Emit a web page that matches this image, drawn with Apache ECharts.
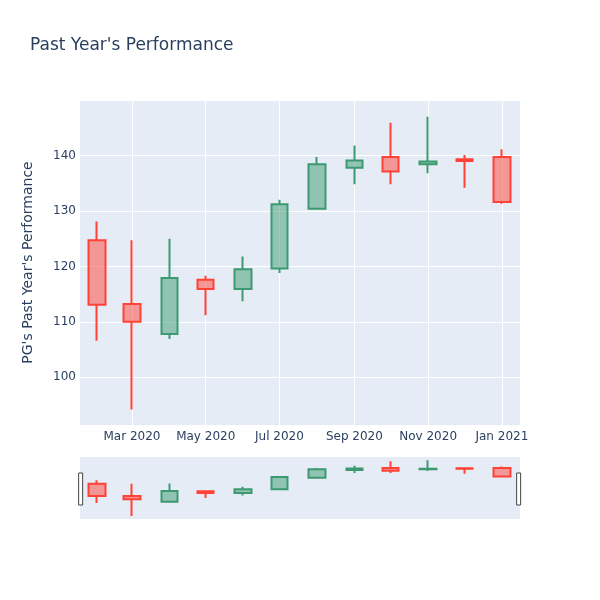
<!DOCTYPE html>
<html>
<head>
<meta charset="utf-8">
<script src="https://cdn.jsdelivr.net/npm/echarts@6/dist/echarts.min.js"></script>
<style>
  html, body { margin: 0; padding: 0; background: #fff; }
  #main { width: 600px; height: 600px; }
</style>
</head>
<body>
<div id="main"></div>
<script>
// monthly candles, PG
var months = ['2020-02-01', '2020-03-01', '2020-04-01', '2020-05-01', '2020-06-01', '2020-07-01',
              '2020-08-01', '2020-09-01', '2020-10-01', '2020-11-01', '2020-12-01', '2021-01-01'];
var opens  = [124.7, 113.2, 107.8, 117.6, 115.9, 119.6, 130.4, 137.8, 139.7, 138.4, 139.3, 139.7];
var closes = [113.1, 110.0, 117.9, 115.9, 119.5, 131.2, 138.4, 139.1, 137.1, 138.9, 139.0, 131.6];
var lows   = [106.6,  94.2, 106.9, 111.2, 113.7, 118.8, 130.2, 134.8, 134.8, 136.8, 134.2, 131.3];
var highs  = [128.1, 124.7, 125.0, 118.3, 121.8, 132.0, 139.7, 141.8, 145.9, 147.0, 140.1, 141.1];
var labelDates = ['2020-03-01', '2020-05-01', '2020-07-01', '2020-09-01', '2020-11-01', '2021-01-01'];

var monthNames = ['Jan', 'Feb', 'Mar', 'Apr', 'May', 'Jun', 'Jul', 'Aug', 'Sep', 'Oct', 'Nov', 'Dec'];
function ts(s) { return new Date(s + 'T00:00:00Z').getTime(); }
var xMin = ts('2020-01-18'), xMax = ts('2021-01-16');
var yMin = 91.4, yMax = 150;
var labelTs = labelDates.map(ts);

var candles = months.map(function (m, i) {
    return [ts(m), opens[i], closes[i], lows[i], highs[i]];
});

var upLine = '#3D9970', downLine = '#FF4136';
var candleStyle = {
    color: 'rgba(61,153,112,0.5)',
    color0: 'rgba(255,65,54,0.5)',
    borderColor: upLine,
    borderColor0: downLine,
    borderWidth: 2
};

var myChart = echarts.init(document.getElementById('main'));
var txt = '#2a3f5f';
var font = 'DejaVu Sans';
var option = {
    animation: false,
    backgroundColor: '#fff',
    textStyle: { fontFamily: font },
    title: {
        text: "Past Year's Performance",
        left: 25,
        top: 32,
        textStyle: { color: txt, fontSize: 17, fontWeight: 'normal', fontFamily: font }
    },
    grid: [
        { left: 80, right: 80, top: 100, height: 325, show: true, backgroundColor: '#E5ECF6', borderWidth: 0 },
        { left: 80, right: 80, top: 457, height: 62, show: true, backgroundColor: '#E5ECF6', borderWidth: 0 }
    ],
    xAxis: [
        {
            type: 'value',
            gridIndex: 0,
            min: xMin,
            max: xMax,
            axisLine: { show: false },
            axisTick: { show: false, customValues: labelTs },
            splitLine: { show: true, lineStyle: { color: '#fff', width: 1 } },
            axisLabel: {
                customValues: labelTs,
                color: txt,
                fontSize: 12,
                fontFamily: font,
                margin: 6,
                formatter: function (v) {
                    var d = new Date(v);
                    return monthNames[d.getUTCMonth()] + ' ' + d.getUTCFullYear();
                }
            }
        },
        {
            type: 'value',
            gridIndex: 1,
            min: xMin,
            max: xMax,
            show: false,
            splitLine: { show: false }
        }
    ],
    yAxis: [
        {
            type: 'value',
            gridIndex: 0,
            min: yMin,
            max: yMax,
            name: "PG's Past Year's Performance",
            nameLocation: 'middle',
            nameGap: 45,
            nameTextStyle: { color: txt, fontSize: 14, fontFamily: font },
            axisLine: { show: false },
            axisTick: { show: false },
            splitLine: { lineStyle: { color: '#fff', width: 1 } },
            axisLabel: { color: txt, fontSize: 12, fontFamily: font, margin: 4, showMinLabel: false, showMaxLabel: false }
        },
        {
            type: 'value',
            gridIndex: 1,
            min: yMin,
            max: yMax,
            show: false,
            splitLine: { show: false }
        }
    ],
    dataZoom: [
        {
            type: 'slider',
            xAxisIndex: 1,
            filterMode: 'none',
            start: 0,
            end: 100,
            left: 79,
            right: 81,
            top: 458,
            height: 62,
            backgroundColor: 'rgba(0,0,0,0)',
            borderColor: 'rgba(0,0,0,0)',
            fillerColor: 'rgba(0,0,0,0)',
            showDetail: false,
            showDataShadow: false,
            brushSelect: false,
            moveHandleSize: 0,
            dataBackground: { lineStyle: { opacity: 0 }, areaStyle: { opacity: 0 } },
            selectedDataBackground: { lineStyle: { opacity: 0 }, areaStyle: { opacity: 0 } },
            handleIcon: 'path://M0,0H4V32H0Z',
            handleSize: 32,
            handleStyle: { color: '#fff', borderColor: '#444', borderWidth: 1 }
        }
    ],
    series: [
        {
            name: 'PG',
            type: 'candlestick',
            xAxisIndex: 0,
            yAxisIndex: 0,
            barWidth: 17,
            encode: { x: 0, y: [1, 2, 3, 4] },
            itemStyle: candleStyle,
            data: candles
        },
        {
            name: 'PG slider',
            type: 'candlestick',
            xAxisIndex: 1,
            yAxisIndex: 1,
            barWidth: 17,
            encode: { x: 0, y: [1, 2, 3, 4] },
            itemStyle: candleStyle,
            data: candles
        }
    ]
};
window.onresize = myChart.resize;
myChart.setOption(option);
</script>
</body>
</html>
